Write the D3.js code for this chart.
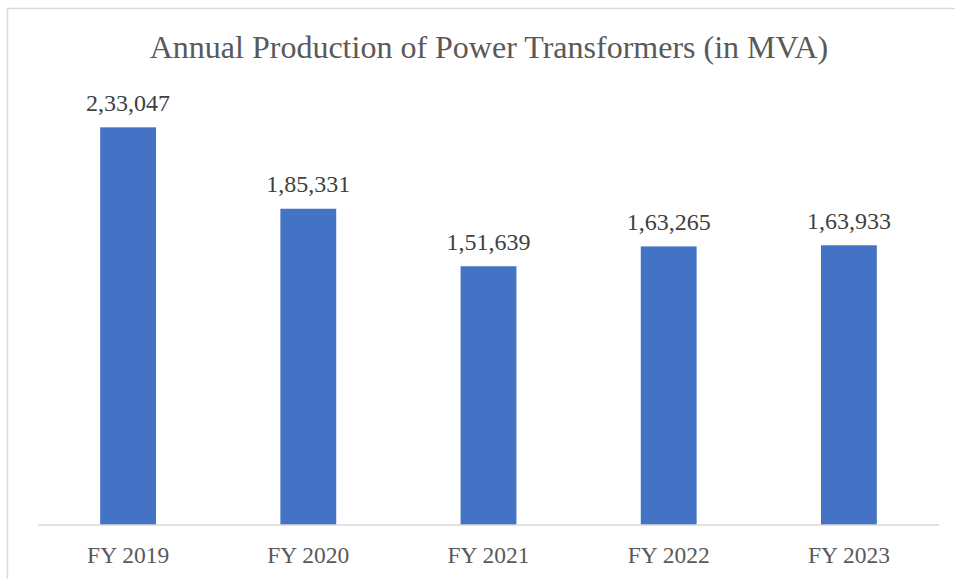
<!DOCTYPE html>
<html>
<head>
<meta charset="utf-8">
<script src="https://cdn.jsdelivr.net/npm/d3@7/dist/d3.min.js"></script>
<style>
  html, body { margin: 0; padding: 0; background: #ffffff; }
  svg { display: block; }
</style>
</head>
<body>
<svg id="chart" width="955" height="579"></svg>
<script>
// Annual production figures (MVA)
const categories = ["FY 2019", "FY 2020", "FY 2021", "FY 2022", "FY 2023"];
const production = [233047, 185331, 151639, 163265, 163933];
const valueLabels = ["2,33,047", "1,85,331", "1,51,639", "1,63,265", "1,63,933"];
const chartTitle = "Annual Production of Power Transformers (in MVA)";

const W = 955, H = 579;
const plot = { left: 38, right: 939, top: 98.4, bottom: 525 };
const serif = "'Liberation Serif', 'Times New Roman', serif";
const textColor = "#595959";

const svg = d3.select("#chart");

// Chart frame (only top and left edges fall inside the view)
svg.append("rect")
  .attr("x", 7.5).attr("y", 8.5)
  .attr("width", W + 20).attr("height", H + 20)
  .attr("fill", "#ffffff")
  .attr("stroke", "#d9d9d9")
  .attr("stroke-width", 1.5);

const x = d3.scaleBand()
  .domain(categories)
  .range([plot.left, plot.right])
  .paddingInner(0.69)
  .paddingOuter(0.345);

const y = d3.scaleLinear()
  .domain([0, 250000])
  .range([plot.bottom, plot.top]);

// Title
svg.append("text")
  .attr("x", 489).attr("y", 57.5)
  .attr("text-anchor", "middle")
  .attr("font-family", serif)
  .attr("font-size", 32)
  .attr("fill", textColor)
  .text(chartTitle);

// Bars
svg.append("g").selectAll("rect")
  .data(categories)
  .join("rect")
  .attr("x", d => x(d))
  .attr("width", x.bandwidth())
  .attr("y", (d, i) => y(production[i]))
  .attr("height", (d, i) => y(0) - y(production[i]))
  .attr("fill", "#4472c4");

// Value labels
svg.append("g").selectAll("text")
  .data(categories)
  .join("text")
  .attr("x", d => x(d) + x.bandwidth() / 2)
  .attr("y", (d, i) => y(production[i]) - 16.6)
  .attr("text-anchor", "middle")
  .attr("font-family", serif)
  .attr("font-size", 24)
  .attr("fill", "#404040")
  .text((d, i) => valueLabels[i]);

// Category axis
const xAxis = svg.append("g")
  .attr("transform", `translate(0,${plot.bottom})`)
  .call(d3.axisBottom(x).tickSize(0).tickPadding(38));
xAxis.select(".domain")
  .attr("stroke", "#d9d9d9")
  .attr("stroke-width", 1.5)
  .attr("d", `M${plot.left},0H${plot.right}`);
xAxis.selectAll("text")
  .attr("font-family", serif)
  .attr("font-size", 23.5)
  .attr("fill", textColor)
  .attr("dy", 0);
</script>
</body>
</html>
